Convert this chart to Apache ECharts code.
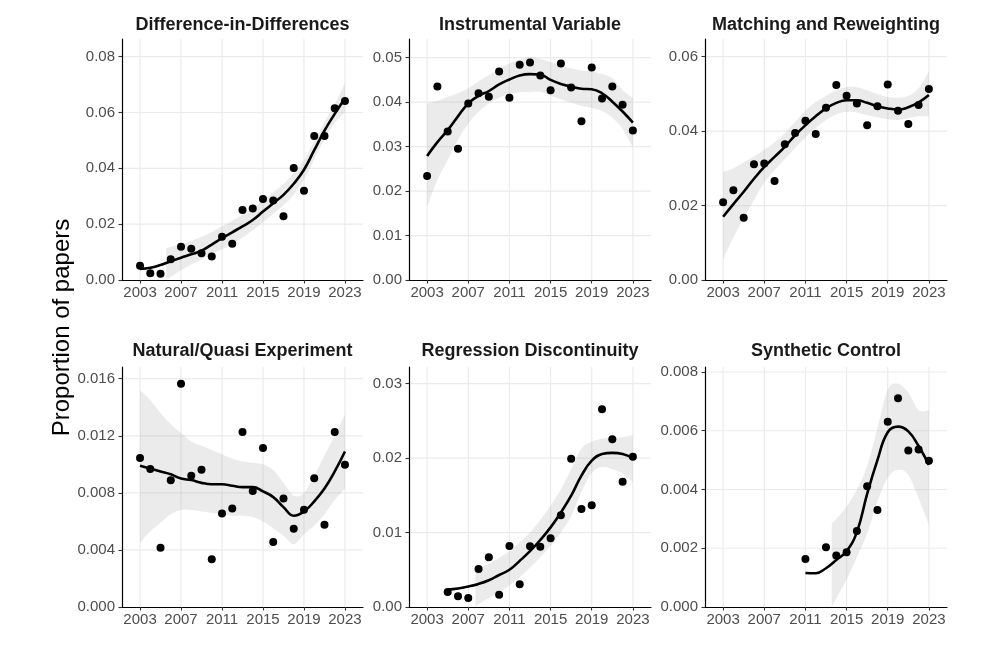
<!DOCTYPE html>
<html><head><meta charset="utf-8">
<script src="https://cdn.jsdelivr.net/npm/echarts@6/dist/echarts.min.js"></script>
<style>html,body{margin:0;padding:0;background:#fff}#c{width:997px;height:664px}</style>
</head><body><div id="c"></div>
<script>
// ---------- data ----------
const years = [2003,2004,2005,2006,2007,2008,2009,2010,2011,2012,2013,2014,2015,2016,2017,2018,2019,2020,2021,2022,2023];
const xTickLabels = [2003,2007,2011,2015,2019,2023];

// Difference-in-Differences
const didPoints = [0.0051,0.0024,0.0022,0.0074,0.0119,0.0112,0.0096,0.0084,0.0155,0.0130,0.0251,0.0256,0.0290,0.0285,0.0228,0.0401,0.0320,0.0516,0.0516,0.0615,0.0641];
const didFit = [0.0040,0.0044,0.0054,0.0067,0.0080,0.0092,0.0105,0.0127,0.0150,0.0171,0.0192,0.0215,0.0245,0.0275,0.0305,0.0345,0.0395,0.0465,0.0535,0.0595,0.0650];
const didBandX = [2005.55,2006,2007,2008,2009,2010,2011,2012,2013,2014,2015,2016,2017,2018,2019,2020,2021,2022,2023];
const didBandLo = [0,0.0012,0.0035,0.0055,0.0074,0.0094,0.0110,0.0130,0.0152,0.0178,0.0207,0.0237,0.0268,0.0305,0.0360,0.0432,0.0505,0.0562,0.0600];
const didBandHi = [0.0114,0.0118,0.0128,0.0140,0.0155,0.0172,0.0192,0.0212,0.0234,0.0256,0.0284,0.0314,0.0343,0.0385,0.0430,0.0498,0.0565,0.0630,0.0705];
const didTicks = [0,0.02,0.04,0.06,0.08];

// Instrumental Variable
const ivPoints = [0.0234,0.0435,0.0334,0.0295,0.0397,0.0420,0.0412,0.0469,0.0410,0.0484,0.0489,0.0460,0.0427,0.0487,0.0433,0.0357,0.0478,0.0408,0.0435,0.0394,0.0336];
const ivFit = [0.0279,0.0310,0.0337,0.0368,0.0397,0.0414,0.0425,0.0440,0.0451,0.0460,0.0463,0.0462,0.0450,0.0441,0.0435,0.0430,0.0429,0.0420,0.0401,0.0379,0.0354];
const ivBandLo = [0.0165,0.0225,0.0270,0.0315,0.0352,0.0378,0.0397,0.0410,0.0418,0.0422,0.0423,0.0423,0.0415,0.0406,0.0399,0.0392,0.0387,0.0380,0.0365,0.0340,0.0298];
const ivBandHi = [0.0397,0.0403,0.0412,0.0420,0.0431,0.0447,0.0461,0.0475,0.0487,0.0496,0.0501,0.0497,0.0490,0.0482,0.0476,0.0471,0.0469,0.0463,0.0454,0.0427,0.0409];
const ivTicks = [0,0.01,0.02,0.03,0.04,0.05];

// Matching and Reweighting
const mrPoints = [0.0209,0.0241,0.0167,0.0311,0.0313,0.0266,0.0365,0.0395,0.0428,0.0392,0.0463,0.0524,0.0495,0.0474,0.0416,0.0467,0.0525,0.0455,0.0419,0.0470,0.0513];
const mrFit = [0.0170,0.0204,0.0237,0.0272,0.0304,0.0331,0.0358,0.0389,0.0416,0.0440,0.0461,0.0476,0.0483,0.0483,0.0476,0.0467,0.0461,0.0458,0.0464,0.0477,0.0497];
const mrBandLo = [0.0055,0.0115,0.0165,0.0215,0.0262,0.0295,0.0325,0.0355,0.0383,0.0408,0.0430,0.0445,0.0452,0.0450,0.0443,0.0437,0.0432,0.0430,0.0435,0.0440,0.0440];
const mrBandHi = [0.0291,0.0300,0.0316,0.0332,0.0350,0.0370,0.0395,0.0425,0.0455,0.0478,0.0495,0.0510,0.0518,0.0518,0.0510,0.0500,0.0492,0.0490,0.0495,0.0515,0.0560];
const mrTicks = [0,0.02,0.04,0.06];

// Natural/Quasi Experiment
const nqPoints = [0.01044,0.00967,0.00416,0.00888,0.01565,0.0092,0.00962,0.00334,0.00656,0.00691,0.01226,0.00813,0.01114,0.00455,0.00761,0.00549,0.00682,0.00902,0.00577,0.01226,0.00997];
const nqFit = [0.0099,0.0097,0.0095,0.0093,0.0090,0.0089,0.0087,0.0086,0.0086,0.0085,0.0084,0.0084,0.0081,0.0077,0.0070,0.0064,0.0067,0.0074,0.0083,0.0095,0.0109];
const nqBandLo = [0.0045,0.0053,0.0059,0.0065,0.0068,0.0068,0.0067,0.0066,0.0065,0.0064,0.0064,0.0063,0.0060,0.0055,0.0050,0.0044,0.0051,0.0057,0.0065,0.0075,0.0083];
const nqBandHi = [0.0152,0.0145,0.0136,0.0128,0.0122,0.0116,0.0113,0.0110,0.0107,0.0104,0.0102,0.0101,0.0100,0.0096,0.0087,0.0078,0.0080,0.0092,0.0106,0.0120,0.0135];
const nqTicks = [0,0.004,0.008,0.012,0.016];

// Regression Discontinuity
const rdYears = [2005,2006,2007,2008,2009,2010,2011,2012,2013,2014,2015,2016,2017,2018,2019,2020,2021,2022,2023];
const rdPoints = [0.0020,0.00143,0.00121,0.0051,0.00667,0.00166,0.0082,0.00304,0.00815,0.0081,0.00922,0.01231,0.01993,0.01316,0.01366,0.02655,0.02252,0.01684,0.0202];
const rdFit = [0.00233,0.00248,0.00275,0.0031,0.0036,0.0043,0.0050,0.0062,0.0075,0.0090,0.0107,0.0127,0.01495,0.01765,0.01965,0.02055,0.0207,0.02055,0.0200];
const rdBandX = [2007.7,2008,2009,2010,2011,2012,2013,2014,2015,2016,2017,2018,2019,2020,2021,2022,2023];
const rdBandLo = [0,0.0004,0.0012,0.0020,0.0029,0.0040,0.0053,0.0067,0.0082,0.0100,0.0122,0.0155,0.0180,0.0188,0.0185,0.0179,0.0168];
const rdBandHi = [0.0050,0.0052,0.0058,0.0066,0.0075,0.0087,0.0100,0.0117,0.0136,0.0158,0.0185,0.0213,0.0222,0.0226,0.0227,0.0228,0.0231];
const rdTicks = [0,0.01,0.02,0.03];

// Synthetic Control
const scYears = [2011,2013,2014,2015,2016,2017,2018,2019,2020,2021,2022,2023];
const scPoints = [0.00163,0.00203,0.00175,0.00186,0.00259,0.00411,0.0033,0.00631,0.00711,0.00533,0.00536,0.00498];
const scFitYears = [2011,2012,2013,2014,2015,2016,2017,2018,2019,2020,2021,2022,2023];
const scFit = [0.00116,0.00115,0.00132,0.00160,0.00190,0.00255,0.00385,0.00500,0.00595,0.00614,0.00598,0.00548,0.00484];
const scBandX = [2013.56,2014,2015,2016,2017,2018,2019,2020,2021,2022,2023];
const scBandLo = [0,0.0003,0.00093,0.0017,0.0025,0.0036,0.0044,0.00467,0.0045,0.0037,0.0028];
const scBandHi = [0.00286,0.0030,0.00342,0.0040,0.0048,0.0061,0.0074,0.0076,0.0073,0.0067,0.0067];
const scTicks = [0,0.002,0.004,0.006,0.008];

// ---------- panels ----------
const panels = [
  {title:'Difference-in-Differences', px:years, py:didPoints, fx:years, fy:didFit, bx:didBandX, lo:didBandLo, hi:didBandHi, ticks:didTicks, ymax:0.08634, dec:2},
  {title:'Instrumental Variable', px:years, py:ivPoints, fx:years, fy:ivFit, bx:years, lo:ivBandLo, hi:ivBandHi, ticks:ivTicks, ymax:0.0542, dec:2},
  {title:'Matching and Reweighting', px:years, py:mrPoints, fx:years, fy:mrFit, bx:years, lo:mrBandLo, hi:mrBandHi, ticks:mrTicks, ymax:0.06476, dec:2},
  {title:'Natural/Quasi Experiment', px:years, py:nqPoints, fx:years, fy:nqFit, bx:years, lo:nqBandLo, hi:nqBandHi, ticks:nqTicks, ymax:0.01682, dec:3},
  {title:'Regression Discontinuity', px:rdYears, py:rdPoints, fx:rdYears, fy:rdFit, bx:rdBandX, lo:rdBandLo, hi:rdBandHi, ticks:rdTicks, ymax:0.03224, dec:2},
  {title:'Synthetic Control', px:scYears, py:scPoints, fx:scFitYears, fy:scFit, bx:scBandX, lo:scBandLo, hi:scBandHi, ticks:scTicks, ymax:0.00817, dec:3}
];

const FONT = '"Liberation Sans", Arial, Helvetica, sans-serif';
const XMIN = 2001.24, XMAX = 2024.76;
const colLeft = [122, 409, 705];
const colWidth = [241, 242, 242];
const rowTop = [39, 367];
const rowHeight = [241, 240];
const titleY = [25, 351.5];

function dense(p) {
  const out = [];
  const n = p.length;
  for (let i = 0; i < n - 1; i++) {
    const p0 = p[Math.max(i - 1, 0)], p1 = p[i], p2 = p[i + 1], p3 = p[Math.min(i + 2, n - 1)];
    for (let s = 0; s < 10; s++) {
      const t = s / 10, t2 = t * t, t3 = t2 * t;
      const f = k => 0.5 * ((2 * p1[k]) + (-p0[k] + p2[k]) * t + (2 * p0[k] - 5 * p1[k] + 4 * p2[k] - p3[k]) * t2 + (-p0[k] + 3 * p1[k] - 3 * p2[k] + p3[k]) * t3);
      out.push([f(0), f(1)]);
    }
  }
  out.push(p[n - 1]);
  return out;
}

const grids = [], xAxes = [], yAxes = [], series = [], graphics = [];
panels.forEach((pn, i) => {
  const r = Math.floor(i / 3), c = i % 3;
  grids.push({left: colLeft[c], top: rowTop[r], width: colWidth[c], height: rowHeight[r], containLabel: false});
  xAxes.push({
    gridIndex: i, type: 'value', min: XMIN, max: XMAX,
    axisLine: {show: true, onZero: false, lineStyle: {color: '#000', width: 1.2}},
    axisTick: {show: true, length: 3.5, lineStyle: {color: '#333', width: 1.1}, customValues: xTickLabels},
    axisLabel: {customValues: xTickLabels, color: '#4d4d4d', fontSize: 15, fontFamily: FONT, margin: 5,
      formatter: v => String(Math.round(v))},
    splitLine: {show: false}
  });
  yAxes.push({
    gridIndex: i, type: 'value', min: 0, max: pn.ymax,
    axisLine: {show: true, onZero: false, lineStyle: {color: '#000', width: 1.2}},
    axisTick: {show: true, length: 3.5, lineStyle: {color: '#333', width: 1.1}, customValues: pn.ticks},
    axisLabel: {customValues: pn.ticks, color: '#4d4d4d', fontSize: 15, fontFamily: FONT, margin: 7,
      formatter: v => Number(v).toFixed(pn.dec)},
    splitLine: {show: false}
  });
  // panel grid lines, placed through the axes' scales
  series.push({
    type: 'custom', xAxisIndex: i, yAxisIndex: i, silent: true, clip: true, z: 0,
    data: [[xTickLabels[0], 0]], encode: {x: 0, y: 1},
    renderItem: function (params, api) {
      const children = [];
      const st = {stroke: '#ebebeb', lineWidth: 1.2};
      xTickLabels.forEach(v => {
        const a = api.coord([v, 0]), b = api.coord([v, pn.ymax]);
        children.push({type: 'line', shape: {x1: a[0], y1: a[1], x2: b[0], y2: b[1]}, style: st});
      });
      pn.ticks.forEach(v => {
        if (v === 0) return;
        const a = api.coord([XMIN, v]), b = api.coord([XMAX, v]);
        children.push({type: 'line', shape: {x1: a[0], y1: a[1], x2: b[0], y2: b[1]}, style: st});
      });
      return {type: 'group', children: children};
    }
  });
  series.push({
    type: 'custom', xAxisIndex: i, yAxisIndex: i, silent: true, clip: true, z: 1,
    data: [[pn.bx[0], pn.lo[0]]], encode: {x: 0, y: 1},
    renderItem: function (params, api) {
      const up = pn.bx.map((x, k) => api.coord([x, pn.hi[k]]));
      const dn = pn.bx.map((x, k) => api.coord([x, pn.lo[k]]));
      const pts = dense(up).concat(dense(dn).reverse());
      return {type: 'polygon', shape: {points: pts}, style: {fill: 'rgba(153,153,153,0.2)'}};
    }
  });
  series.push({
    type: 'line', xAxisIndex: i, yAxisIndex: i, silent: true, z: 3,
    data: pn.fx.map((x, k) => [x, pn.fy[k]]),
    smooth: 0.45, symbol: 'none', showSymbol: false,
    lineStyle: {color: '#000', width: 2.6}
  });
  series.push({
    type: 'scatter', xAxisIndex: i, yAxisIndex: i, silent: true, z: 4,
    data: pn.px.map((x, k) => [x, pn.py[k]]),
    symbolSize: 8, itemStyle: {color: '#000', opacity: 1}
  });
  graphics.push({
    type: 'text', x: colLeft[c] + colWidth[c] / 2, y: titleY[r], silent: true,
    style: {text: pn.title, fill: '#1a1a1a', font: 'bold 18px ' + FONT, align: 'center', verticalAlign: 'middle', textAlign: 'center', textVerticalAlign: 'middle'}
  });
});
graphics.push({
  type: 'text', x: 62.5, y: 327.5, rotation: Math.PI / 2, silent: true,
  style: {text: 'Proportion of papers', fill: '#000', font: '24px ' + FONT, align: 'center', verticalAlign: 'middle', textAlign: 'center', textVerticalAlign: 'middle'}
});

const chart = echarts.init(document.getElementById('c'), null, {renderer: 'canvas'});
chart.setOption({
  animation: false, backgroundColor: '#fff',
  grid: grids, xAxis: xAxes, yAxis: yAxes, series: series, graphic: graphics
});
</script>
</body></html>
